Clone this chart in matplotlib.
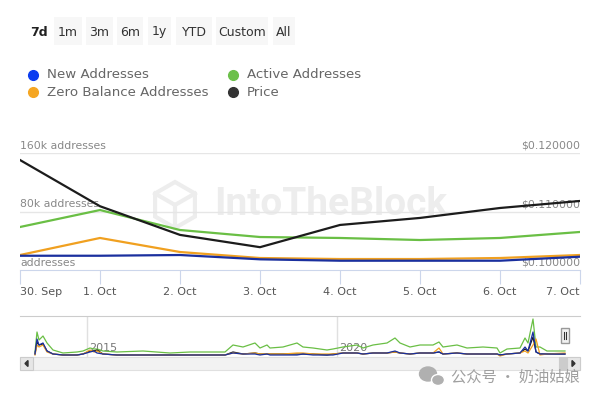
import numpy as np
import matplotlib
matplotlib.use("Agg")
import matplotlib.pyplot as plt
import matplotlib.transforms as mtransforms
from matplotlib.patches import Rectangle, Ellipse, Polygon
from matplotlib.lines import Line2D

W, H = 600, 400

# --- main chart data (7d view) ---
dates = ['30. Sep', '1. Oct', '2. Oct', '3. Oct', '4. Oct', '5. Oct', '6. Oct', '7. Oct']
new_addresses = [19500, 19500, 20500, 14600, 12700, 12700, 12700, 18200]
active_addresses = [58800, 82000, 54700, 45100, 43800, 41000, 43800, 52000]
zero_balance = [20500, 43800, 24600, 16400, 15000, 15000, 16400, 20500]
price = [0.1188, 0.1109, 0.1060, 0.1039, 0.1077, 0.1089, 0.1106, 0.1118]

left_ticks = [0, 80000, 160000]
left_labels = ['addresses', '80k addresses', '160k addresses']
right_ticks = [0.10, 0.11, 0.12]
right_labels = ['$0.100000', '$0.110000', '$0.120000']

series_names = ['New Addresses', 'Active Addresses', 'Zero Balance Addresses', 'Price']
line_colors = ['#1a2f9e', '#6abf45', '#f0a020', '#1c1c1c']
dot_colors = ['#0b3df0', '#6cc04a', '#f5a623', '#333333']

range_buttons = ['7d', '1m', '3m', '6m', '1y', 'YTD', 'Custom', 'All']

# --- navigator (full history), relative heights ---
nav_years = [2013.96, 2014.00, 2014.04, 2014.12, 2014.20, 2014.32, 2014.52, 2014.80,
             2014.92, 2015.06, 2015.14, 2015.20, 2015.32, 2015.60, 2016.12, 2016.66,
             2017.06, 2017.46, 2017.76, 2017.92, 2018.12, 2018.36, 2018.46, 2018.60,
             2018.66, 2018.92, 2019.20, 2019.32, 2019.52, 2019.80, 2019.92, 2020.12,
             2020.40, 2020.52, 2020.72, 2021.00, 2021.16, 2021.26, 2021.46, 2021.66,
             2021.92, 2022.04, 2022.12, 2022.40, 2022.60, 2022.92, 2023.20, 2023.26,
             2023.40, 2023.66, 2023.76, 2023.82, 2023.92, 2023.98, 2024.06, 2024.20,
             2024.56]
nav_active = [5, 25, 17, 21, 14, 7, 4, 5, 6, 9, 8, 8, 6, 5, 6, 4,
              5, 5, 5, 12, 10, 14, 9, 12, 9, 10, 14, 10, 9, 7, 8, 10,
              12, 9, 12, 14, 19, 14, 10, 12, 12, 15, 10, 12, 9, 10, 9, 4,
              8, 9, 19, 14, 38, 10, 10, 6, 6]
nav_new = [3, 18, 12, 14, 6, 3, 2, 2, 3, 5, 6, 4, 3, 2, 2, 2,
           2, 2, 2, 4, 3, 3, 2, 3, 2, 2, 2, 3, 2, 2, 2, 4,
           4, 3, 4, 4, 6, 4, 3, 4, 4, 5, 3, 4, 3, 3, 3, 2,
           3, 4, 10, 6, 25, 5, 3, 3, 3]
nav_zero = [2, 12, 10, 12, 5, 3, 2, 2, 3, 7, 5, 6, 3, 2, 2, 2,
            2, 2, 2, 4, 3, 4, 3, 3, 3, 3, 4, 4, 3, 3, 3, 4,
            4, 3, 4, 4, 5, 4, 3, 4, 4, 9, 3, 4, 3, 3, 3, 1,
            3, 4, 6, 4, 12, 18, 2, 3, 4]
nav_price = [3, 15, 12, 13, 6, 3, 2, 2, 3, 6, 6, 7, 3, 2, 2, 2,
             2, 2, 2, 5, 3, 4, 3, 3, 3, 3, 3, 3, 3, 2, 3, 4,
             4, 3, 4, 4, 5, 4, 3, 4, 4, 5, 3, 4, 3, 3, 3, 2,
             3, 4, 8, 6, 20, 5, 3, 3, 3]
nav_ticks = [2015, 2020]


def fx(x):
    return x / W


def fy(y):
    return 1 - y / H


fig = plt.figure(figsize=(6, 4), dpi=100)
fig.patch.set_facecolor('white')

# range selector buttons
btn_extents = [(31, 46), (54, 82), (86, 113), (117, 143), (148, 171), (176, 212), (216, 268), (273, 295)]
for i, (label, (x0, x1)) in enumerate(zip(range_buttons, btn_extents)):
    if i > 0:
        fig.add_artist(Rectangle((fx(x0), fy(45)), fx(x1 - x0), (45 - 17) / H,
                                 transform=fig.transFigure, facecolor='#f7f7f7', edgecolor='none'))
    fig.text(fx((x0 + x1) / 2), fy(32), label, ha='center', va='center', fontsize=9,
             color='#222222' if i == 0 else '#333333', fontweight='bold' if i == 0 else 'normal')

# legend
legend_pos = [(33, 75), (233, 75), (33, 92), (233, 92)]
for name, col, (lx, ly) in zip(series_names, dot_colors, legend_pos):
    fig.add_artist(Line2D([fx(lx)], [fy(ly)], marker='o', markersize=7, color=col,
                          transform=fig.transFigure, linestyle='none'))
    fig.text(fx(lx + 14), fy(ly), name, ha='left', va='center', fontsize=9.6, color='#666666')

# main chart
ax = fig.add_axes([fx(20), fy(270), fx(560), 117 / H])
ax2 = ax.twinx()
x = np.arange(len(dates))

ax.set_zorder(1)
ax.patch.set_visible(False)
ax2.set_zorder(2)
ax2.patch.set_visible(False)

# IntoTheBlock watermark
ax.text(fx(331), fy(205), 'IntoTheBlock', transform=fig.transFigure, ha='center', va='center',
        fontsize=28, family='Roboto', fontweight='bold', color='#ededed', zorder=0)
cx, cy, r = 175, 205, 23
hexv = [(fx(cx + r * np.cos(a)), fy(cy + r * np.sin(a))) for a in np.radians([30, 90, 150, 210, 270, 330])]
ax.add_patch(Polygon(hexv, closed=True, fill=False, edgecolor='#ededed', lw=3,
                     transform=fig.transFigure, zorder=0))
for a in [90, 210, 330]:
    ax.add_line(Line2D([fx(cx), fx(cx + r * np.cos(np.radians(a)))],
                       [fy(cy), fy(cy + r * np.sin(np.radians(a)))],
                       color='#ededed', lw=3, transform=fig.transFigure, zorder=0))

ax.plot(x, active_addresses, color=line_colors[1], lw=1.6, zorder=2)
ax.plot(x, zero_balance, color=line_colors[2], lw=1.6, zorder=3)
ax.plot(x, new_addresses, color=line_colors[0], lw=1.6, zorder=4)
ax2.plot(x, price, color=line_colors[3], lw=1.6, zorder=5)

ax.set_xlim(0, len(dates) - 1)
ax.set_ylim(0, 160000)
ax2.set_ylim(0.10, 0.12)

for v in left_ticks[1:]:
    ax.axhline(v, color='#e6e6e6', lw=1, zorder=0.8)

trans_l = mtransforms.blended_transform_factory(ax.transAxes, ax.transData)
for v, lab in zip(left_ticks, left_labels):
    ax.annotate(lab, xy=(0, v), xycoords=trans_l, xytext=(0, 1.5), textcoords='offset points',
                ha='left', va='bottom', fontsize=7.8, color='#888888', zorder=1)
for v, lab in zip(right_ticks, right_labels):
    ax.annotate(lab, xy=(1, (v - 0.10) / 0.02 * 160000), xycoords=trans_l, xytext=(0, 1.5),
                textcoords='offset points', ha='right', va='bottom', fontsize=7.8,
                color='#888888', zorder=1)

for a in (ax, ax2):
    for s in a.spines.values():
        s.set_visible(False)
    a.set_yticks([])
ax.spines['bottom'].set_visible(True)
ax.spines['bottom'].set_color('#ccd6eb')
ax.set_xticks(x)
ax.set_xticklabels(dates)
ax.tick_params(axis='x', length=10, color='#ccd6eb', labelsize=8, labelcolor='#555555', pad=2)
lbls = ax.get_xticklabels()
lbls[0].set_ha('left')
lbls[-1].set_ha('right')

# navigator
nav = fig.add_axes([fx(20), fy(357), fx(560), 41 / H])
nav.plot(nav_years, nav_active, color=line_colors[1], lw=0.9)
nav.plot(nav_years, nav_price, color=line_colors[3], lw=0.9)
nav.plot(nav_years, nav_zero, color=line_colors[2], lw=0.9)
nav.plot(nav_years, nav_new, color=line_colors[0], lw=0.9)
nav.set_xlim(2013.66, 2024.86)
nav.set_ylim(0, 41)
for s in nav.spines.values():
    s.set_visible(False)
nav.spines['top'].set_visible(True)
nav.spines['top'].set_color('#cccccc')
nav.set_xticks([])
nav.set_yticks([])
for t in nav_ticks:
    nav.axvline(t, color='#e0e0e0', lw=1, zorder=0)
    nav.text(t + 0.05, 9, str(t), fontsize=8, color='#777777', ha='left', va='center', zorder=1)

# navigator handle
fig.add_artist(Rectangle((fx(561), fy(343)), fx(8), 15 / H, transform=fig.transFigure,
                         facecolor='#f2f2f2', edgecolor='#999999', lw=1))
for hx in (564, 566):
    fig.add_artist(Line2D([fx(hx), fx(hx)], [fy(339), fy(332)], color='#333333', lw=0.8,
                          transform=fig.transFigure))

# scrollbar
fig.add_artist(Rectangle((fx(20), fy(370)), fx(560), 13 / H, transform=fig.transFigure,
                         facecolor='#f2f2f2', edgecolor='#e0e0e0', lw=0.8))
fig.add_artist(Rectangle((fx(20), fy(370)), fx(13), 13 / H, transform=fig.transFigure,
                         facecolor='#e6e6e6', edgecolor='#cccccc', lw=0.8))
fig.add_artist(Rectangle((fx(559), fy(370)), fx(8), 13 / H, transform=fig.transFigure,
                         facecolor='#cccccc', edgecolor='#cccccc', lw=0.8))
fig.add_artist(Rectangle((fx(567), fy(370)), fx(13), 13 / H, transform=fig.transFigure,
                         facecolor='#e6e6e6', edgecolor='#cccccc', lw=0.8))
fig.add_artist(Polygon([(fx(25), fy(363.5)), (fx(28), fy(360.5)), (fx(28), fy(366.5))],
                       closed=True, transform=fig.transFigure, color='#333333'))
fig.add_artist(Polygon([(fx(575), fy(363.5)), (fx(572), fy(360.5)), (fx(572), fy(366.5))],
                       closed=True, transform=fig.transFigure, color='#333333'))

# WeChat watermark
fig.add_artist(Ellipse((fx(428), fy(374)), fx(17), 14 / H, transform=fig.transFigure,
                       color='#b0b0b0'))
fig.add_artist(Ellipse((fx(438), fy(380)), fx(13), 11 / H, transform=fig.transFigure,
                       color='#b0b0b0', ec='white', lw=1))
fig.text(fx(580), fy(377), '公众号 · 奶油姑娘', ha='right', va='center', fontsize=11,
         color='#a0a0a0', family=['Noto Sans CJK SC', 'DejaVu Sans'])

fig.savefig('out.png', dpi=100)
